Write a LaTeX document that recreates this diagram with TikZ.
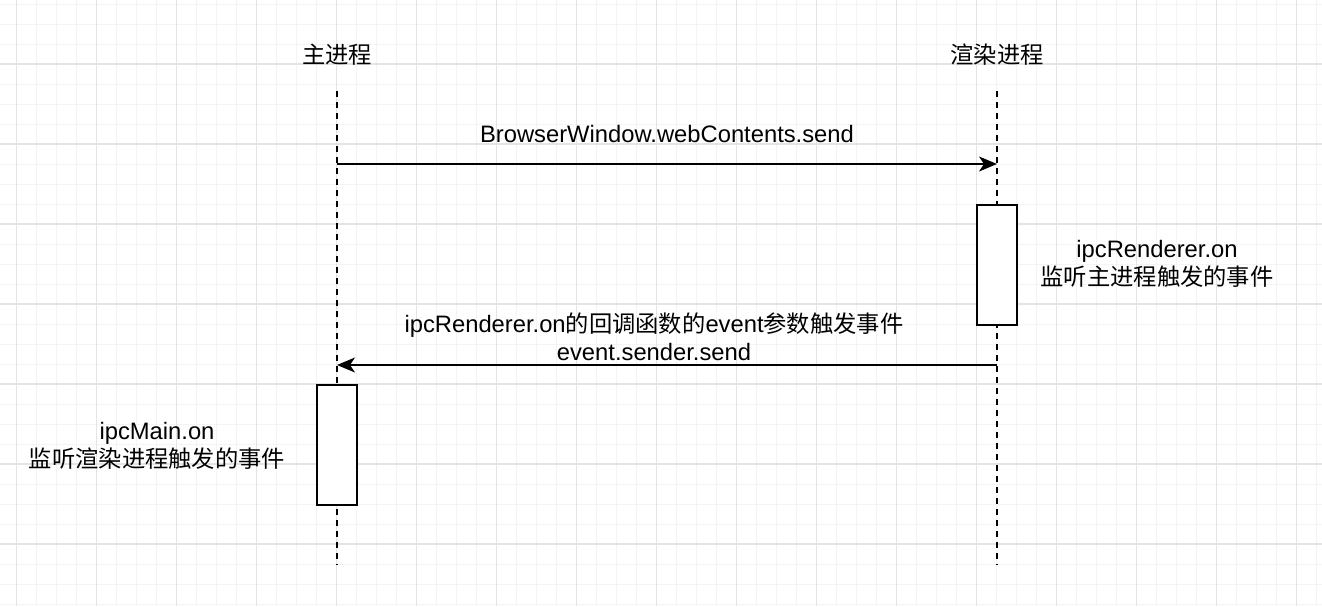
\documentclass[tikz,border=0pt]{standalone}
\usepackage{fontspec}
\setmainfont{Liberation Sans}[Scale=1.02]
\newfontfamily\cjk{Noto Sans CJK SC}
\usetikzlibrary{arrows.meta}
\definecolor{minorgrid}{HTML}{F4F4F4}
\definecolor{majorgrid}{HTML}{E4E4E4}
\begin{document}
\begin{tikzpicture}[x=1pt,y=-1pt,
  lbl/.style={inner sep=0pt,align=center,font=\fontsize{23.3}{28}\selectfont},
  lifeline/.style={line width=1.7pt,dash pattern=on 6pt off 5pt},
  actbox/.style={draw,line width=2pt,fill=white,minimum width=40pt,minimum height=120pt,inner sep=0pt},
  msg/.style={line width=1.8pt,-{Stealth[length=18pt,width=15pt,inset=5pt]}}]
\useasboundingbox (0,0) rectangle (1322,606);
\fill[white] (0,0) rectangle (1322,606);
% grid
\foreach \x in {-3.5,16.5,...,1322} \draw[minorgrid,line width=1pt] (\x,0) -- (\x,606);
\foreach \y in {4,24,...,606} \draw[minorgrid,line width=1pt] (0,\y) -- (1322,\y);
\foreach \x in {16.5,96.5,...,1322} \draw[majorgrid,line width=1.3pt] (\x,0) -- (\x,606);
\foreach \y in {64,144,...,606} \draw[majorgrid,line width=1.3pt] (0,\y) -- (1322,\y);
% headers
\node[lbl] (mainh) at (337,55) {\cjk 主进程};
\node[lbl] (rendh) at (997,55) {\cjk 渲染进程};
% lifelines
\coordinate (mtop) at (337,91);
\coordinate (mbot) at (337,565);
\coordinate (rtop) at (997,91);
\coordinate (rbot) at (997,565);
\draw[lifeline] (mtop) -- (mbot);
\draw[lifeline] (rtop) -- (rbot);
% activation boxes
\node[actbox] (ract) at (997,265) {};
\node[actbox] (mact) at (337,445) {};
% messages
\coordinate (m1) at (337,164);
\coordinate (r1) at (997,164);
\draw[msg] (m1) -- (r1);
\node[lbl] (l1) at (667,134) {BrowserWindow.webContents.send};
\coordinate (r2) at (997,365);
\coordinate (m2) at (337,365);
\draw[msg] (r2) -- (m2);
\node[lbl] (l2) at (654,337) {ipcRenderer.on{\cjk 的回调函数的}event{\cjk 参数触发事件}\\event.sender.send};
% notes
\node[lbl] (rn) at (1157,264) {ipcRenderer.on\\{\cjk 监听主进程触发的事件}};
\node[lbl] (mn) at (157,446) {ipcMain.on\\{\cjk 监听渲染进程触发的事件}};
\end{tikzpicture}
\end{document}
